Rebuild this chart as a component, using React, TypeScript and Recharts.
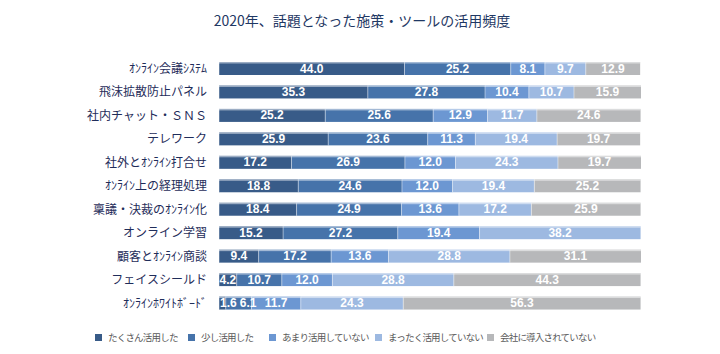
import { BarChart, Bar, XAxis, YAxis, LabelList } from 'recharts'

const categories = [
  'ｵﾝﾗｲﾝ会議ｼｽﾃﾑ',
  '飛沫拡散防止パネル',
  '社内チャット・ＳＮＳ',
  'テレワーク',
  '社外とｵﾝﾗｲﾝ打合せ',
  'ｵﾝﾗｲﾝ上の経理処理',
  '稟議・決裁のｵﾝﾗｲﾝ化',
  'オンライン学習',
  '顧客とｵﾝﾗｲﾝ商談',
  'フェイスシールド',
  'ｵﾝﾗｲﾝﾎﾜｲﾄﾎﾞｰﾄﾞ',
]

const muchUsed = [44.0, 35.3, 25.2, 25.9, 17.2, 18.8, 18.4, 15.2, 9.4, 4.2, 1.6]
const littleUsed = [25.2, 27.8, 25.6, 23.6, 26.9, 24.6, 24.9, 27.2, 17.2, 10.7, 6.1]
const rarelyUsed = [8.1, 10.4, 12.9, 11.3, 12.0, 12.0, 13.6, 19.4, 13.6, 12.0, 11.7]
const notUsed = [9.7, 10.7, 11.7, 19.4, 24.3, 19.4, 17.2, 38.2, 28.8, 28.8, 24.3]
const notAdopted = [12.9, 15.9, 24.6, 19.7, 19.7, 25.2, 25.9, 0, 31.1, 44.3, 56.3]

const seriesNames = ['たくさん活用した', '少し活用した', 'あまり活用していない', 'まったく活用していない', '会社に導入されていない']
const colors = ['#385B88', '#4673AA', '#6C97D2', '#9DB9E1', '#B7B8BA']
const keys = ['s0', 's1', 's2', 's3', 's4']

const data = categories.map((name, i) => ({
  name,
  s0: muchUsed[i],
  s1: littleUsed[i],
  s2: rarelyUsed[i],
  s3: notUsed[i],
  s4: notAdopted[i],
}))

const Segment = (props: any) => {
  const { x, y, width, height, fill } = props
  if (!width || width <= 0) return null
  return (
    <g>
      <rect x={x} y={y} width={width} height={height} fill={fill} />
      <rect x={x} y={y} width={width} height={1.5} fill="#ffffff" fillOpacity={0.5} />
      <line x1={x} x2={x} y1={y} y2={y + height} stroke="#ffffff" strokeOpacity={0.45} />
    </g>
  )
}

// rough width of a bold 12px label like "12.3"
const textWidth = (s: string) => s.replace('.', '').length * 6.7 + 3.3

// keeps labels of very thin segments from running into each other
const makeLabel = (k: number) => (props: any) => {
  const { x, y, width, height, value, index } = props
  if (!value) return null
  const text = Number(value).toFixed(1)
  const tw = textWidth(text)
  let cx = x + width / 2
  let anchor = 'middle'
  if (width < tw) {
    cx = x + 1
    anchor = 'start'
  } else if (k > 0) {
    const prevVal = (data[index] as any)[keys[k - 1]]
    const unit = width / value
    const prevW = prevVal * unit
    const prevTw = textWidth(Number(prevVal).toFixed(1))
    if (prevVal && prevW < prevTw) {
      const prevEnd = x - prevW + 1 + prevTw
      cx = Math.max(cx, prevEnd + tw / 2 + 3)
    }
  }
  return (
    <text
      x={cx}
      y={y + height / 2}
      textAnchor={anchor}
      dominantBaseline="central"
      fill="#ffffff"
      fontSize={12}
      fontWeight="bold"
      fontFamily='"Liberation Sans", Arial, sans-serif'
    >
      {text}
    </text>
  )
}

const legendWidths = [93, 81, 106, 112, 130]

export default function App() {
  return (
    <div
      style={{
        position: 'absolute',
        left: 0,
        top: 0,
        width: 720,
        height: 354,
        background: '#fff',
        fontFamily: '"Noto Sans CJK JP", "Noto Sans", sans-serif',
      }}
    >
      <div
        style={{
          position: 'absolute',
          top: 9,
          left: 0,
          width: 724,
          textAlign: 'center',
          fontSize: 14,
          color: '#1F3864',
          lineHeight: '22px',
        }}
      >
        2020年、話題となった施策・ツールの活用頻度
      </div>
      <BarChart
        width={720}
        height={354}
        data={data}
        layout="vertical"
        margin={{ top: 57, right: 79, bottom: 39, left: 0 }}
        barSize={13}
      >
        <XAxis type="number" domain={[0, 100]} hide />
        <YAxis
          type="category"
          dataKey="name"
          width={219}
          tickLine={false}
          axisLine={false}
          tickMargin={6}
          tick={{ fontSize: 12, fill: '#1F2D5A' }}
          interval={0}
        />
        {keys.map((key, i) => (
          <Bar
            key={key}
            dataKey={key}
            name={seriesNames[i]}
            stackId="a"
            fill={colors[i]}
            shape={Segment}
            isAnimationActive={false}
          >
            <LabelList dataKey={key} content={makeLabel(i)} />
          </Bar>
        ))}
      </BarChart>
      <div
        style={{
          position: 'absolute',
          top: 329,
          left: 95,
          display: 'flex',
          fontSize: 9.5,
          letterSpacing: -0.8,
          color: '#595959',
          lineHeight: '16px',
          whiteSpace: 'nowrap',
        }}
      >
        {seriesNames.map((n, i) => (
          <div key={n} style={{ width: legendWidths[i], display: 'flex', alignItems: 'center' }}>
            <span
              style={{ display: 'inline-block', width: 7, height: 7, background: colors[i], marginRight: 6, flexShrink: 0 }}
            />
            {n}
          </div>
        ))}
      </div>
    </div>
  )
}
